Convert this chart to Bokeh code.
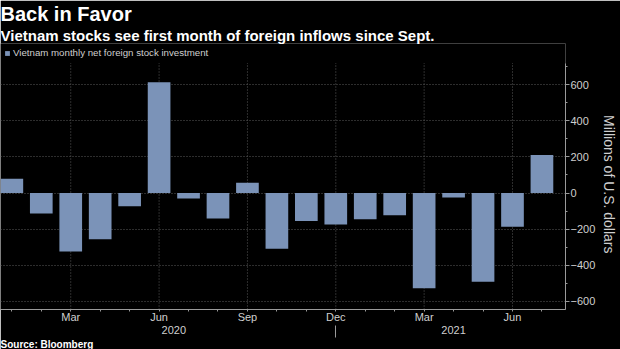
from bokeh.plotting import figure
from bokeh.models import (ColumnDataSource, FixedTicker, LinearAxis, Range1d,
                          Title, Legend, LegendItem)
from bokeh.embed import file_html
from bokeh.resources import INLINE

# ---- data ----
months = ["Jan", "Feb", "Mar", "Apr", "May", "Jun", "Jul", "Aug", "Sep", "Oct",
          "Nov", "Dec", "Jan", "Feb", "Mar", "Apr", "May", "Jun", "Jul"]
years = [2020] * 12 + [2021] * 7
values = [79, -113, -324, -256, -73, 614, -31, -141, 57, -309, -155, -174,
          -145, -123, -527, -25, -492, -187, 211]
quarter_labels = ["Mar", "Jun", "Sep", "Dec"]
y_ticks = [-600, -400, -200, 0, 200, 400, 600]
y_minor_ticks = [-500, -300, -100, 100, 300, 500, 700]
series_name = "Vietnam monthly net foreign stock investment"
title_text = "Back in Favor"
subtitle_text = "Vietnam stocks see first month of foreign inflows since Sept."
source_text = "Source:  Bloomberg"
y_label = "Millions of U.S. dollars"

idx = list(range(len(months)))
quarter_idx = [i for i in idx if months[i] in quarter_labels]
year_names = sorted(set(years))
year_pos = [sum(i for i in idx if years[i] == y) / years.count(y) for y in year_names]
year_breaks = [i for i in idx[1:] if years[i] != years[i - 1]]
year_sep = [b - 1 for b in year_breaks]

BG = "black"
TXT = "#cfcfcf"
GRID = "#5a5a5a"
AXIS = "#9a9a9a"
BAR = "#7b93b8"
FONT = "Liberation Sans"

Y_LO, Y_AX_HI, Y_HI = -645, 720, 828

src = ColumnDataSource(dict(x=idx, v=values))

p = figure(width=620, height=349, output_backend="svg", toolbar_location=None,
           x_range=Range1d(-0.385, 18.8), y_range=Range1d(Y_LO, Y_HI),
           y_axis_location="right",
           background_fill_color=BG, border_fill_color=BG, outline_line_color=None,
           min_border_left=0, min_border_right=47, min_border_top=42,
           min_border_bottom=39)

# vertical grid lines (stop at the axis top)
p.segment(x0=quarter_idx, x1=quarter_idx, y0=[Y_LO] * len(quarter_idx),
          y1=[Y_AX_HI] * len(quarter_idx), line_color=GRID, line_dash="1 2",
          line_width=1)

r = p.vbar(x="x", top="v", bottom=0, width=0.77, source=src, color=BAR,
           line_color=None)

# grids
p.xgrid.visible = False
p.ygrid.ticker = FixedTicker(ticks=y_ticks)
p.ygrid.grid_line_color = GRID
p.ygrid.grid_line_dash = "1 2"
p.ygrid.grid_line_width = 1

# x axis (months)
xa = p.xaxis[0]
xa.ticker = FixedTicker(ticks=quarter_idx, minor_ticks=idx)
xa.major_label_overrides = {i: months[i] for i in quarter_idx}
xa.axis_line_color = AXIS
xa.major_tick_line_color = None
xa.minor_tick_line_color = AXIS
xa.minor_tick_in = 0
xa.minor_tick_out = 2
xa.major_tick_out = 0
xa.major_tick_in = 0
xa.major_label_standoff = -1
xa.major_label_text_color = TXT
xa.major_label_text_font = FONT
xa.major_label_text_font_size = "11px"

# year axis: labels + year separator tick
yr_axis = LinearAxis(ticker=FixedTicker(ticks=year_pos, minor_ticks=year_sep),
                     major_label_overrides={p_: str(y) for p_, y in zip(year_pos, year_names)},
                     axis_line_color=None, major_tick_line_color=None,
                     major_tick_out=0, major_tick_in=0,
                     minor_tick_line_color=AXIS, minor_tick_in=0, minor_tick_out=12,
                     major_label_standoff=-12, major_label_text_color=TXT,
                     major_label_text_font=FONT, major_label_text_font_size="11px")
p.add_layout(yr_axis, "below")

# y axis (right)
yax = p.yaxis[0]
yax.ticker = FixedTicker(ticks=y_ticks, minor_ticks=y_minor_ticks)
yax.bounds = (Y_LO, Y_AX_HI)
yax.axis_line_color = AXIS
yax.major_tick_line_color = AXIS
yax.minor_tick_line_color = AXIS
yax.major_tick_in = 0
yax.major_tick_out = 4
yax.minor_tick_in = 0
yax.minor_tick_out = 2
yax.major_label_standoff = 1
yax.major_label_text_color = TXT
yax.major_label_text_font = FONT
yax.major_label_text_font_size = "11px"
# leading no-break spaces centre the label on the axis span rather than the frame
yax.axis_label = "\u00a0\u00a0\u00a0\u00a0" + y_label
yax.axis_label_text_color = TXT
yax.axis_label_text_font = FONT
yax.axis_label_text_font_size = "14px"
yax.axis_label_text_font_style = "normal"
yax.axis_label_standoff = 3

# legend inside the top band of the frame
legend = Legend(items=[LegendItem(label=series_name, renderers=[r])],
                location="top_left", orientation="horizontal",
                background_fill_alpha=0, border_line_alpha=0,
                label_text_color=TXT, label_text_font=FONT,
                label_text_font_size="9.7px", glyph_width=6, glyph_height=6,
                label_height=10, label_standoff=3, padding=4, margin=0,
                spacing=0)
p.add_layout(legend)

p.add_layout(Title(text=subtitle_text, text_color="white", text_font=FONT,
                   text_font_size="15px", text_font_style="bold", align="left",
                   standoff=0), "above")
p.add_layout(Title(text=title_text, text_color="white", text_font=FONT,
                   text_font_size="20px", text_font_style="bold", align="left",
                   standoff=0), "above")
p.add_layout(Title(text=source_text, text_color="white", text_font=FONT,
                   text_font_size="10px", text_font_style="bold", align="left",
                   standoff=0), "below")

open("out.html", "w").write(file_html(p, INLINE))
